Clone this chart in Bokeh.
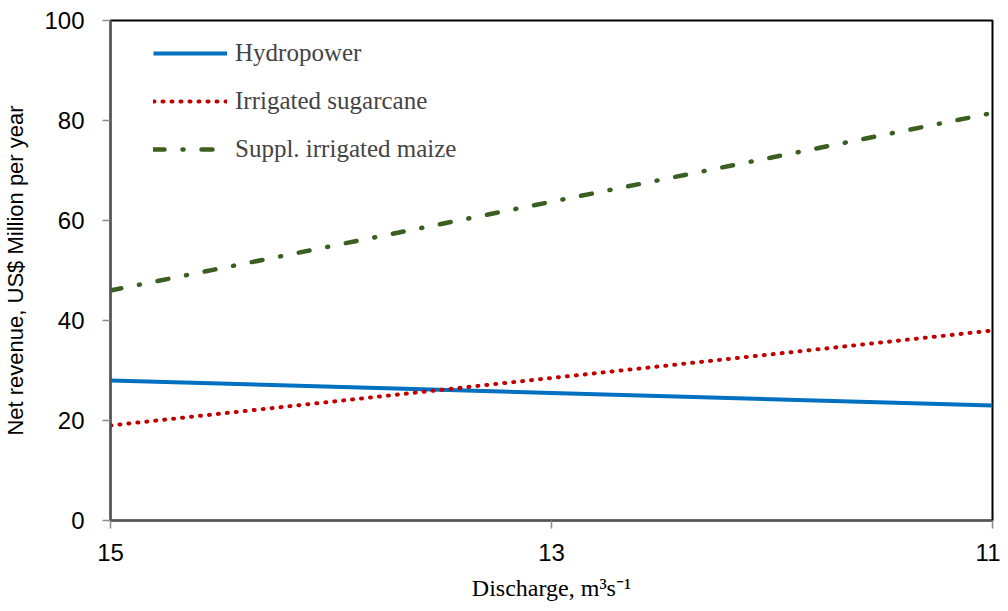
from bokeh.plotting import figure
from bokeh.models import Range1d, FixedTicker, Legend, LegendItem
from bokeh.embed import file_html
from bokeh.resources import INLINE

discharge = [15, 13, 11]
hydropower = [28, 25.5, 23]
sugarcane = [19, 28.5, 38]
maize = [46, 63.75, 81.5]
series_names = ["Hydropower", "Irrigated sugarcane", "Suppl. irrigated maize"]
x_ticks = [15, 13, 11]
y_ticks = [0, 20, 40, 60, 80, 100]
x_title = "Discharge, m\u00b3s\u207b\u00b9"
y_title = "Net revenue, US$ Million per year"

p = figure(width=1000, height=603, output_backend="svg", toolbar_location=None,
           x_range=Range1d(15, 11), y_range=Range1d(0, 100),
           min_border_left=110, min_border_right=8, min_border_top=20, min_border_bottom=83)
p.xgrid.visible = False
p.ygrid.visible = False
p.outline_line_color = "black"
p.outline_line_width = 2

r1 = p.line(discharge, hydropower, line_color="#0070C0", line_width=4)
r2 = p.line(discharge, sugarcane, line_color="#C00000", line_width=4, line_dash="1 8", line_cap="round")
r3 = p.line(discharge, maize, line_color="#3A5F21", line_width=4.5, line_dash="11 18 1 18", line_cap="round")

for ax in (p.xaxis[0], p.yaxis[0]):
    ax.axis_line_color = "#555555"
    ax.axis_line_width = 2
    ax.major_tick_line_color = "#8C8C8C"
    ax.major_tick_line_width = 1.5
    ax.major_tick_out = 8
    ax.major_tick_in = 0
    ax.minor_tick_line_color = None
    ax.major_label_text_font = "Liberation Sans"
    ax.major_label_text_font_size = "24px"
    ax.major_label_text_color = "black"

p.xaxis[0].ticker = FixedTicker(ticks=x_ticks)
p.yaxis[0].ticker = FixedTicker(ticks=y_ticks)
p.xaxis[0].major_label_standoff = 15
p.yaxis[0].major_label_standoff = 18

p.xaxis[0].axis_label = x_title
p.xaxis[0].axis_label_text_font = "Liberation Serif"
p.xaxis[0].axis_label_text_font_style = "normal"
p.xaxis[0].axis_label_text_font_size = "24px"
p.xaxis[0].axis_label_text_color = "black"
p.xaxis[0].axis_label_standoff = 11

p.yaxis[0].axis_label = y_title
p.yaxis[0].axis_label_text_font = "Liberation Sans"
p.yaxis[0].axis_label_text_font_style = "normal"
p.yaxis[0].axis_label_text_font_size = "22px"
p.yaxis[0].axis_label_text_color = "black"
p.yaxis[0].axis_label_standoff = 13

legend = Legend(items=[LegendItem(label=series_names[0], renderers=[r1]),
                       LegendItem(label=series_names[1], renderers=[r2]),
                       LegendItem(label=series_names[2], renderers=[r3])],
                location=(43, 356), padding=0, margin=0, spacing=18,
                glyph_width=74, glyph_height=30, label_height=30, label_standoff=8,
                border_line_color=None, background_fill_alpha=0,
                label_text_font="Liberation Serif", label_text_font_size="25px")
p.add_layout(legend, "center")

open("out.html", "w").write(file_html(p, INLINE))
